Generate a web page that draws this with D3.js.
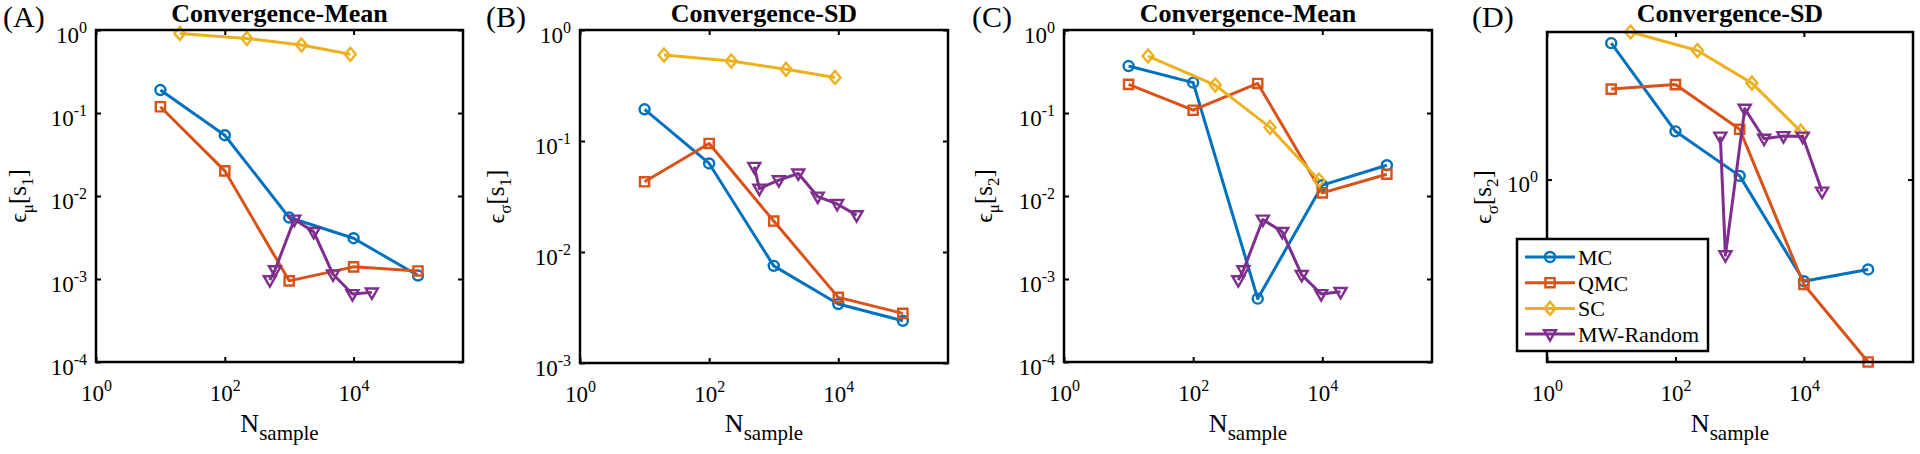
<!DOCTYPE html>
<html>
<head>
<meta charset="utf-8">
<script src="https://cdn.jsdelivr.net/npm/d3@7"></script>
<style>
  html, body { margin: 0; padding: 0; background: #fff; }
  svg { display: block; }
  text, tspan { font-family: "Liberation Serif", "Times New Roman", serif; fill: #000; }
</style>
</head>
<body>
<svg id="chart" width="1920" height="454" font-family="Liberation Serif"></svg>
<script>
// ---------------- DATA ----------------
const seriesNames = ["MC", "QMC", "SC", "MW-Random"];
const panelLabels = ["(A)", "(B)", "(C)", "(D)"];
const panelTitles = ["Convergence-Mean", "Convergence-SD", "Convergence-Mean", "Convergence-SD"];
const xTickValues = [1, 100, 10000];

// sample counts (x values)
const xMC  = [10, 100, 1000, 10000, 100000];
const xQMC = [10, 100, 1000, 10000, 100000];
const xSC  = [20, 220, 1550, 8900];
const xMW  = [500, 600, 1200, 2400, 4800, 9600, 19200];

// Panel A: eps_mu[s1]
const A_MC  = [0.189, 0.054, 0.0055, 0.0031, 0.0011];
const A_QMC = [0.119, 0.0201, 0.00095, 0.0014, 0.00125];
const A_SC  = [0.91, 0.79, 0.66, 0.51];
const A_MW  = [0.00097, 0.00128, 0.0052, 0.0037, 0.00114, 0.00066, 0.00069];

// Panel B: eps_sigma[s1]
const B_MC  = [0.193, 0.0628, 0.0075, 0.0034, 0.0024];
const B_QMC = [0.0429, 0.095, 0.019, 0.0039, 0.0028];
const B_SC  = [0.595, 0.525, 0.442, 0.374];
const B_MW  = [0.0586, 0.0373, 0.0444, 0.051, 0.0316, 0.0271, 0.0215];

// Panel C: eps_mu[s2]
const C_MC  = [0.368, 0.232, 0.00058, 0.0135, 0.0235];
const C_QMC = [0.221, 0.108, 0.227, 0.0109, 0.0183];
const C_SC  = [0.486, 0.217, 0.067, 0.0155];
const C_MW  = [0.00097, 0.00128, 0.0052, 0.0037, 0.00112, 0.00066, 0.0007];

// Panel D: eps_sigma[s2]
const D_MC  = [2.59, 1.40, 1.026, 0.492, 0.534];
const D_QMC = [1.88, 1.94, 1.42, 0.481, 0.28];
const D_SC  = [2.8, 2.46, 1.96, 1.40];
const D_MW  = [1.35, 0.59, 1.64, 1.33, 1.355, 1.35, 0.92];

const yTicksA = [1e-4, 1e-3, 1e-2, 1e-1, 1];
const yTicksB = [1e-3, 1e-2, 1e-1, 1];
const yTicksC = [1e-4, 1e-3, 1e-2, 1e-1, 1];
const yTicksD = [1];

// ---------------- LAYOUT / STYLE ----------------
const FONT = "Liberation Serif";
const colors = ["#0072BD", "#D95319", "#EDB120", "#7E2F8E"];
const markers = ["circle", "square", "diamond", "triangleDown"];
const xDomain = [1, 5e5];

const panels = [
  { box: {l: 96,   t: 30, r: 463,  b: 362}, yDomain: [1e-4, 1], yTicks: yTicksA,
    ys: [A_MC, A_QMC, A_SC, A_MW], yl: ["\u03BC", "1"], labelX: 3,    ylabOff: 70 },
  { box: {l: 580,  t: 30, r: 948,  b: 363}, yDomain: [1e-3, 1], yTicks: yTicksB,
    ys: [B_MC, B_QMC, B_SC, B_MW], yl: ["\u03C3", "1"], labelX: 486,  ylabOff: 76 },
  { box: {l: 1064, t: 30, r: 1432, b: 362}, yDomain: [1e-4, 1], yTicks: yTicksC,
    ys: [C_MC, C_QMC, C_SC, C_MW], yl: ["\u03BC", "2"], labelX: 972,  ylabOff: 72 },
  { box: {l: 1547, t: 32, r: 1913, b: 362}, yDomain: [0.28, 2.8], yTicks: yTicksD,
    ys: [D_MC, D_QMC, D_SC, D_MW], yl: ["\u03C3", "2"], labelX: 1472, ylabOff: 56 }
];
const xsAll = [xMC, xQMC, xSC, xMW];

const svg = d3.select("#chart");

function markerPath(type, cx, cy) {
  switch (type) {
    case "circle": {
      const r = 5;
      return `M${cx + r},${cy} A${r},${r} 0 1,1 ${cx - r},${cy} A${r},${r} 0 1,1 ${cx + r},${cy} Z`;
    }
    case "square": {
      const s = 4.6;
      return `M${cx - s},${cy - s} L${cx + s},${cy - s} L${cx + s},${cy + s} L${cx - s},${cy + s} Z`;
    }
    case "diamond": {
      const w = 5.5, h = 6.5;
      return `M${cx},${cy - h} L${cx + w},${cy} L${cx},${cy + h} L${cx - w},${cy} Z`;
    }
    case "triangleDown": {
      const w = 6, h = 6.5;
      return `M${cx - w},${cy - h * 0.6} L${cx + w},${cy - h * 0.6} L${cx},${cy + h} Z`;
    }
  }
}

function supLabel(sel, exp, baseSize, supSize) {
  sel.text(null);
  sel.append("tspan").attr("font-family", FONT).attr("font-size", baseSize).text("10");
  sel.append("tspan").attr("font-family", FONT).attr("font-size", supSize).attr("dy", -10).text(exp);
}

panels.forEach((p, pi) => {
  const {l, t, r, b} = p.box;
  const x = d3.scaleLog().domain(xDomain).range([l, r]);
  const y = d3.scaleLog().domain(p.yDomain).range([b, t]);
  const g = svg.append("g").attr("font-family", FONT);

  g.append("rect").attr("x", l).attr("y", t).attr("width", r - l).attr("height", b - t)
    .attr("fill", "#fff");

  const tickLen = 5;
  const axB = g.append("g").attr("transform", `translate(0,${b})`)
    .call(d3.axisBottom(x).tickValues(xTickValues).tickSizeInner(-tickLen).tickSizeOuter(0).tickPadding(20));
  const axT = g.append("g").attr("transform", `translate(0,${t})`)
    .call(d3.axisTop(x).tickValues(xTickValues).tickSizeInner(-tickLen).tickSizeOuter(0).tickFormat(""));
  const axL = g.append("g").attr("transform", `translate(${l},0)`)
    .call(d3.axisLeft(y).tickValues(p.yTicks).tickSizeInner(-tickLen).tickSizeOuter(0).tickPadding(12));
  const axR = g.append("g").attr("transform", `translate(${r},0)`)
    .call(d3.axisRight(y).tickValues(p.yTicks).tickSizeInner(-tickLen).tickSizeOuter(0).tickFormat(""));
  [axB, axT, axL, axR].forEach(a => {
    a.select(".domain").remove();
    a.selectAll("line").attr("stroke", "#000").attr("stroke-width", 2);
    a.attr("font-family", FONT).attr("font-size", null);
  });

  axB.selectAll(".tick text").each(function(d) {
    const s = d3.select(this);
    s.attr("fill", "#000").attr("dy", null).attr("y", 39).attr("font-family", FONT);
    supLabel(s, String(Math.round(Math.log10(d))), 23, 16);
  });
  axL.selectAll(".tick text").each(function(d) {
    const s = d3.select(this);
    s.attr("fill", "#000").attr("dy", null).attr("y", 12).attr("x", -9).attr("font-family", FONT);
    supLabel(s, String(Math.round(Math.log10(d))), 23, 16);
  });

  p.ys.forEach((vals, si) => {
    const xs = xsAll[si];
    const pts = vals.map((v, i) => [xs[i], v]);
    const line = d3.line().x(d => x(d[0])).y(d => y(d[1]));
    g.append("path").attr("d", line(pts)).attr("fill", "none")
      .attr("stroke", colors[si]).attr("stroke-width", 3).attr("stroke-linejoin", "round");
    g.selectAll(null).data(pts).enter().append("path")
      .attr("d", d => markerPath(markers[si], x(d[0]), y(d[1])))
      .attr("fill", "none").attr("stroke", colors[si]).attr("stroke-width", 2.4);
  });

  g.append("rect").attr("x", l).attr("y", t).attr("width", r - l).attr("height", b - t)
    .attr("fill", "none").attr("stroke", "#000").attr("stroke-width", 2.5);

  g.append("text").attr("x", (l + r) / 2).attr("y", 22).attr("text-anchor", "middle")
    .attr("font-family", FONT).attr("font-size", 26).attr("font-weight", "bold").text(panelTitles[pi]);

  g.append("text").attr("x", p.labelX).attr("y", 27).attr("font-family", FONT)
    .attr("font-size", 30).text(panelLabels[pi]);

  const xl = g.append("text").attr("x", (l + r) / 2).attr("y", 432).attr("text-anchor", "middle")
    .attr("font-family", FONT);
  xl.append("tspan").attr("font-family", FONT).attr("font-size", 26).text("N");
  xl.append("tspan").attr("font-family", FONT).attr("font-size", 21).attr("dy", 8).text("sample");

  const yl = g.append("text")
    .attr("transform", `translate(${l - p.ylabOff},${(t + b) / 2}) rotate(-90)`)
    .attr("text-anchor", "middle").attr("font-family", FONT);
  yl.append("tspan").attr("font-size", 24).attr("font-family", "DejaVu Serif").text("\u03F5");
  yl.append("tspan").attr("font-size", 17).attr("font-family", FONT).attr("dy", 7).text(p.yl[0]);
  yl.append("tspan").attr("font-size", 25).attr("font-family", FONT).attr("dy", -7).text("[s");
  yl.append("tspan").attr("font-size", 17).attr("font-family", FONT).attr("dy", 7).text(p.yl[1]);
  yl.append("tspan").attr("font-size", 25).attr("font-family", FONT).attr("dy", -7).text("]");

  if (pi === 3) {
    const lg = svg.append("g").attr("font-family", FONT);
    lg.append("rect").attr("x", 1517).attr("y", 239).attr("width", 191).attr("height", 112)
      .attr("fill", "#fff").attr("stroke", "#000").attr("stroke-width", 2.5);
    seriesNames.forEach((name, si) => {
      const cy = 257 + si * 25.7;
      lg.append("line").attr("x1", 1525).attr("x2", 1575).attr("y1", cy).attr("y2", cy)
        .attr("stroke", colors[si]).attr("stroke-width", 3);
      lg.append("path").attr("d", markerPath(markers[si], 1550, cy))
        .attr("fill", "none").attr("stroke", colors[si]).attr("stroke-width", 2.4);
      lg.append("text").attr("x", 1578).attr("y", cy + 8).attr("font-family", FONT)
        .attr("font-size", 22).text(name);
    });
  }
});
</script>
</body>
</html>
